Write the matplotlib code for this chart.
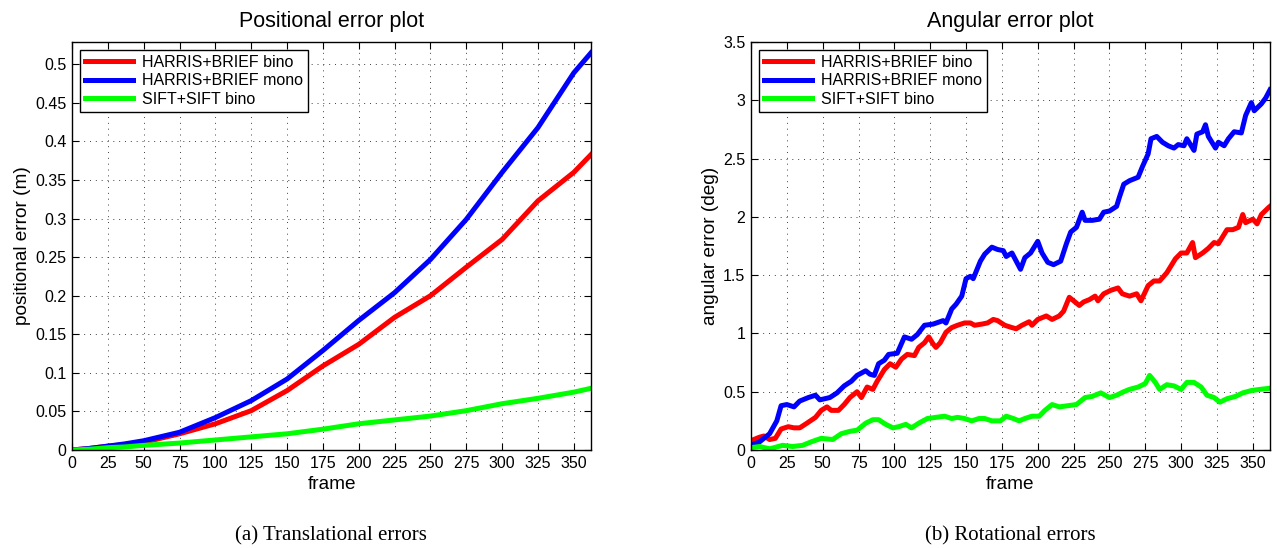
import matplotlib
matplotlib.use("Agg")
import matplotlib.pyplot as plt
from matplotlib.ticker import FormatStrFormatter, MultipleLocator

# ---- positional error (m) ----
pos_frames = [0, 12, 25, 37, 50, 75, 100, 125, 150, 175, 200, 225, 250, 275, 300, 325, 350, 362]
pos_bino = [0.0, 0.002, 0.005, 0.007, 0.010, 0.021, 0.034, 0.051, 0.077, 0.109, 0.137, 0.172,
            0.200, 0.237, 0.273, 0.323, 0.360, 0.383]
pos_mono = [0.0, 0.002, 0.005, 0.008, 0.012, 0.023, 0.042, 0.064, 0.092, 0.129, 0.168, 0.204,
            0.247, 0.299, 0.360, 0.418, 0.489, 0.515]
pos_sift = [0.0, 0.001, 0.003, 0.004, 0.006, 0.009, 0.013, 0.017, 0.021, 0.027, 0.034, 0.039,
            0.044, 0.051, 0.060, 0.067, 0.075, 0.080]

# ---- angular error (deg) ----
ang_mono_f = [0, 6, 13, 18, 21, 25, 30, 34, 40, 45, 48, 55, 60, 65, 70, 74, 80, 83, 86, 89, 93,
              96, 102, 107, 112, 116, 121, 127, 134, 136, 140, 143, 147, 150, 153, 155, 160, 163,
              168, 172, 176, 178, 182, 185, 188, 191, 195, 200, 203, 207, 211, 216, 220, 223, 227,
              231, 233, 238, 243, 246, 250, 255, 257, 260, 264, 270, 273, 277, 279, 283, 287, 291,
              295, 298, 302, 304, 309, 311, 315, 317, 319, 324, 326, 330, 333, 337, 342, 345, 349,
              351, 356, 359, 362]
ang_mono = [0.04, 0.07, 0.14, 0.25, 0.38, 0.39, 0.37, 0.42, 0.45, 0.47, 0.43, 0.45, 0.49, 0.55,
            0.59, 0.64, 0.68, 0.65, 0.64, 0.74, 0.77, 0.82, 0.83, 0.97, 0.95, 0.99, 1.07, 1.08,
            1.11, 1.09, 1.21, 1.25, 1.32, 1.47, 1.49, 1.47, 1.62, 1.68, 1.74, 1.72, 1.71, 1.66,
            1.69, 1.62, 1.55, 1.65, 1.69, 1.79, 1.69, 1.61, 1.59, 1.62, 1.77, 1.87, 1.91, 2.04,
            1.97, 1.97, 1.98, 2.04, 2.05, 2.09, 2.17, 2.28, 2.31, 2.34, 2.43, 2.54, 2.67, 2.69,
            2.64, 2.61, 2.59, 2.62, 2.61, 2.67, 2.57, 2.71, 2.73, 2.79, 2.69, 2.59, 2.64, 2.61,
            2.67, 2.73, 2.72, 2.87, 2.98, 2.91, 2.97, 3.02, 3.09]

ang_bino_f = [0, 6, 9, 13, 17, 21, 26, 30, 34, 39, 45, 49, 53, 56, 61, 65, 69, 74, 77, 81, 85, 88,
              93, 97, 101, 105, 109, 114, 117, 121, 124, 127, 129, 132, 136, 140, 144, 149, 153,
              156, 161, 165, 169, 172, 177, 182, 185, 189, 194, 196, 200, 206, 210, 215, 218, 222,
              225, 229, 232, 236, 240, 242, 246, 251, 256, 259, 264, 269, 272, 277, 281, 285, 290,
              293, 296, 300, 304, 308, 310, 315, 319, 323, 326, 332, 336, 340, 343, 345, 350, 353,
              356, 361, 362]
ang_bino = [0.08, 0.11, 0.12, 0.09, 0.10, 0.18, 0.20, 0.19, 0.19, 0.23, 0.28, 0.34, 0.37, 0.34,
            0.34, 0.39, 0.45, 0.50, 0.45, 0.54, 0.52, 0.59, 0.69, 0.74, 0.71, 0.78, 0.82, 0.81,
            0.88, 0.92, 0.97, 0.91, 0.88, 0.92, 1.01, 1.05, 1.07, 1.09, 1.09, 1.07, 1.08, 1.09,
            1.12, 1.11, 1.07, 1.05, 1.04, 1.07, 1.10, 1.07, 1.12, 1.15, 1.12, 1.15, 1.19, 1.31,
            1.28, 1.24, 1.27, 1.29, 1.32, 1.28, 1.34, 1.37, 1.39, 1.34, 1.32, 1.34, 1.28, 1.41,
            1.45, 1.45, 1.52, 1.58, 1.64, 1.69, 1.69, 1.78, 1.65, 1.69, 1.73, 1.78, 1.77, 1.89,
            1.89, 1.91, 2.02, 1.95, 1.98, 1.94, 2.02, 2.08, 2.09]

ang_sift_f = [0, 6, 13, 22, 29, 36, 42, 49, 57, 63, 69, 74, 80, 85, 89, 94, 99, 103, 108, 112,
              117, 123, 129, 135, 140, 144, 149, 154, 159, 163, 168, 174, 178, 183, 187, 191, 196,
              201, 205, 210, 215, 221, 227, 233, 238, 244, 250, 255, 260, 264, 270, 275, 278, 282,
              285, 290, 295, 300, 304, 309, 314, 318, 323, 327, 332, 338, 343, 349, 355, 362]
ang_sift = [0.02, 0.03, 0.01, 0.04, 0.03, 0.04, 0.07, 0.10, 0.09, 0.14, 0.16, 0.17, 0.23, 0.26,
            0.26, 0.22, 0.19, 0.20, 0.22, 0.19, 0.23, 0.27, 0.28, 0.29, 0.27, 0.28, 0.27, 0.25,
            0.27, 0.27, 0.25, 0.25, 0.29, 0.27, 0.25, 0.27, 0.29, 0.29, 0.34, 0.39, 0.37, 0.38,
            0.39, 0.45, 0.46, 0.49, 0.45, 0.47, 0.50, 0.52, 0.54, 0.57, 0.64, 0.58, 0.52, 0.56,
            0.55, 0.52, 0.58, 0.58, 0.54, 0.47, 0.45, 0.41, 0.44, 0.46, 0.49, 0.51, 0.52, 0.53]

labels = ["HARRIS+BRIEF bino", "HARRIS+BRIEF mono", "SIFT+SIFT bino"]
colors = ["#ff0000", "#0000ff", "#00ff00"]
x_ticks = list(range(0, 351, 25))

plt.rcParams["font.family"] = ["Liberation Sans", "DejaVu Sans"]
plt.rcParams["font.size"] = 11.5

fig = plt.figure(figsize=(12.77, 5.48), dpi=100)
ax1 = fig.add_axes([72 / 1277, 98 / 548, 519 / 1277, 408 / 548])
ax2 = fig.add_axes([751 / 1277, 98 / 548, 519 / 1277, 408 / 548])


def style(ax, ystep, ymax):
    ax.set_xlim(0, 362)
    ax.set_ylim(0, ymax)
    ax.set_xticks(x_ticks)
    ax.yaxis.set_major_locator(MultipleLocator(ystep))
    ax.yaxis.set_major_formatter(FormatStrFormatter("%g"))
    ax.tick_params(direction="in", length=5, width=0.8, top=True, right=True,
                   labelsize=11.5, pad=4, colors="k")
    ax.grid(True, color="0.25", linestyle=(0, (1, 5)), linewidth=0.7)
    for s in ax.spines.values():
        s.set_linewidth(1.0)
    ax.set_xlabel("frame", fontsize=13.7, labelpad=4)
    leg = ax.legend(loc="upper left", fontsize=11.5, handlelength=3.0, labelspacing=0.22,
                    borderaxespad=0.5, borderpad=0.3, handletextpad=0.6,
                    fancybox=False, framealpha=1)
    leg.get_frame().set_edgecolor("k")
    leg.get_frame().set_linewidth(1.0)


ax1.plot(pos_frames, pos_bino, color=colors[0], lw=3.6, label=labels[0])
ax1.plot(pos_frames, pos_mono, color=colors[1], lw=3.6, label=labels[1])
ax1.plot(pos_frames, pos_sift, color=colors[2], lw=3.6, label=labels[2])
style(ax1, 0.05, 0.529)
ax1.set_title("Positional error plot", fontsize=15.5, pad=11)
ax1.set_ylabel("positional error (m)", fontsize=13.7, labelpad=3)

ax2.plot(ang_bino_f, ang_bino, color=colors[0], lw=3.6, label=labels[0])
ax2.plot(ang_mono_f, ang_mono, color=colors[1], lw=3.6, label=labels[1])
ax2.plot(ang_sift_f, ang_sift, color=colors[2], lw=3.6, label=labels[2])
style(ax2, 0.5, 3.5)
ax2.set_title("Angular error plot", fontsize=15.5, pad=11)
ax2.set_ylabel("angular error (deg)", fontsize=13.7, labelpad=3)

fig.text(331 / 1277, 1 - 536 / 548, "(a) Translational errors", ha="center", va="center",
         fontsize=15, family=["Liberation Serif", "DejaVu Serif"])
fig.text(1010 / 1277, 1 - 536 / 548, "(b) Rotational errors", ha="center", va="center",
         fontsize=15, family=["Liberation Serif", "DejaVu Serif"])

fig.savefig("out.png", dpi=100)
